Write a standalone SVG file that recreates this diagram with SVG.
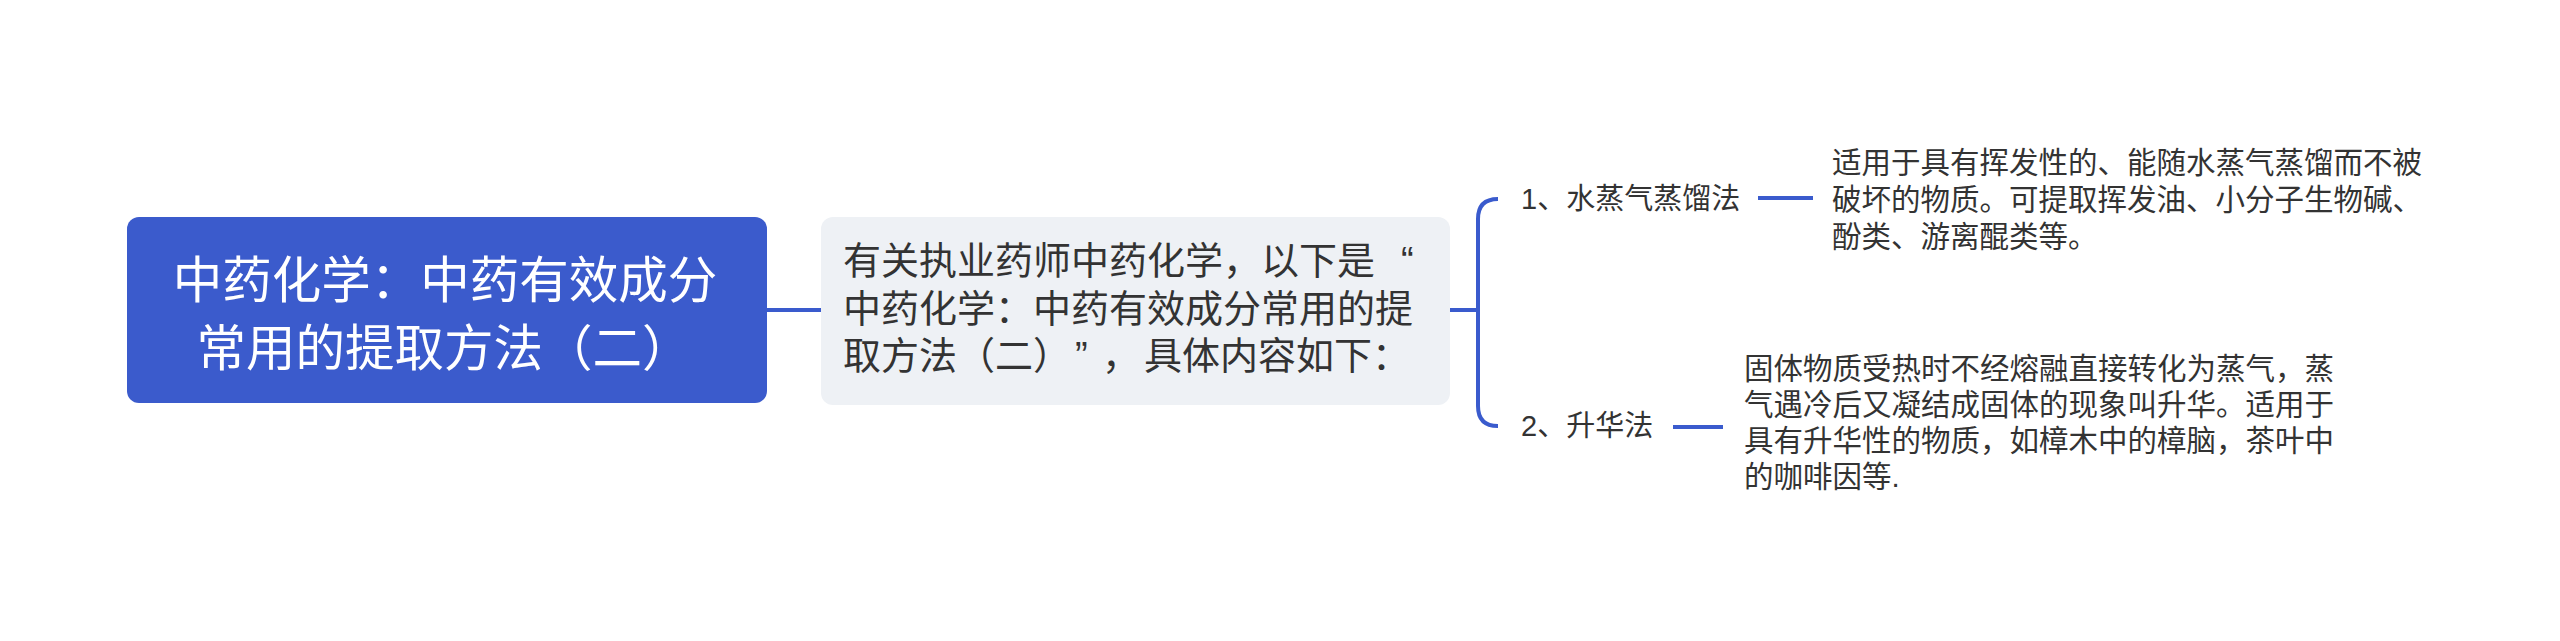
<svg xmlns="http://www.w3.org/2000/svg" width="2560" height="641" viewBox="0 0 2560 641">
<style>
text{font-family:"Liberation Sans","Noto Sans CJK SC",sans-serif;}
.root{fill:#ffffff;font-size:49.5px;text-anchor:middle;}
.mid{fill:#333333;font-size:38px;}
.lab{fill:#333333;font-size:29px;}
.desc{fill:#333333;font-size:29.5px;}
.ln{stroke:#3a5bcd;stroke-width:4;fill:none;}
</style>
<rect width="2560" height="641" fill="#ffffff"/>
<g id="connectors">
<path class="ln" d="M767 310 H821"/>
<path class="ln" d="M1450 310 H1478"/>
<path class="ln" d="M1498 199 Q1478 199 1478 219 V406 Q1478 426 1498 426"/>
<path class="ln" d="M1758 198 H1813"/>
<path class="ln" d="M1673 427 H1723"/>
</g>
<g id="root">
<rect x="127" y="217" width="640" height="186" rx="12" fill="#3b5bcc"/>
<text class="root" x="445" y="298">中药化学：中药有效成分</text>
<text class="root" x="444" y="366">常用的提取方法（二）</text>
</g>
<g id="intro">
<rect x="821" y="217" width="629" height="188" rx="12" fill="#eef1f5"/>
<text class="mid" x="843" y="274">有关执业药师中药化学，以下是<tspan x="1401">“</tspan></text>
<text class="mid" x="843" y="322">中药化学：中药有效成分常用的提</text>
<text class="mid" x="843" y="369">取方法（二）<tspan x="1075">”</tspan><tspan x="1102">，</tspan><tspan x="1144">具体内容如下：</tspan></text>
</g>
<g id="branch1">
<text class="lab" x="1521" y="209">1、水蒸气蒸馏法</text>
</g>
<g id="desc1">
<text class="desc" x="1832" y="173">适用于具有挥发性的、能随水蒸气蒸馏而不被</text>
<text class="desc" x="1832" y="210">破坏的物质。可提取挥发油、小分子生物碱、</text>
<text class="desc" x="1832" y="247">酚类、游离醌类等。</text>
</g>
<g id="branch2">
<text class="lab" x="1521" y="436">2、升华法</text>
</g>
<g id="desc2">
<text class="desc" x="1744" y="379">固体物质受热时不经熔融直接转化为蒸气，蒸</text>
<text class="desc" x="1744" y="415">气遇冷后又凝结成固体的现象叫升华。适用于</text>
<text class="desc" x="1744" y="451">具有升华性的物质，如樟木中的樟脑，茶叶中</text>
<text class="desc" x="1744" y="487">的咖啡因等.</text>
</g>
</svg>
